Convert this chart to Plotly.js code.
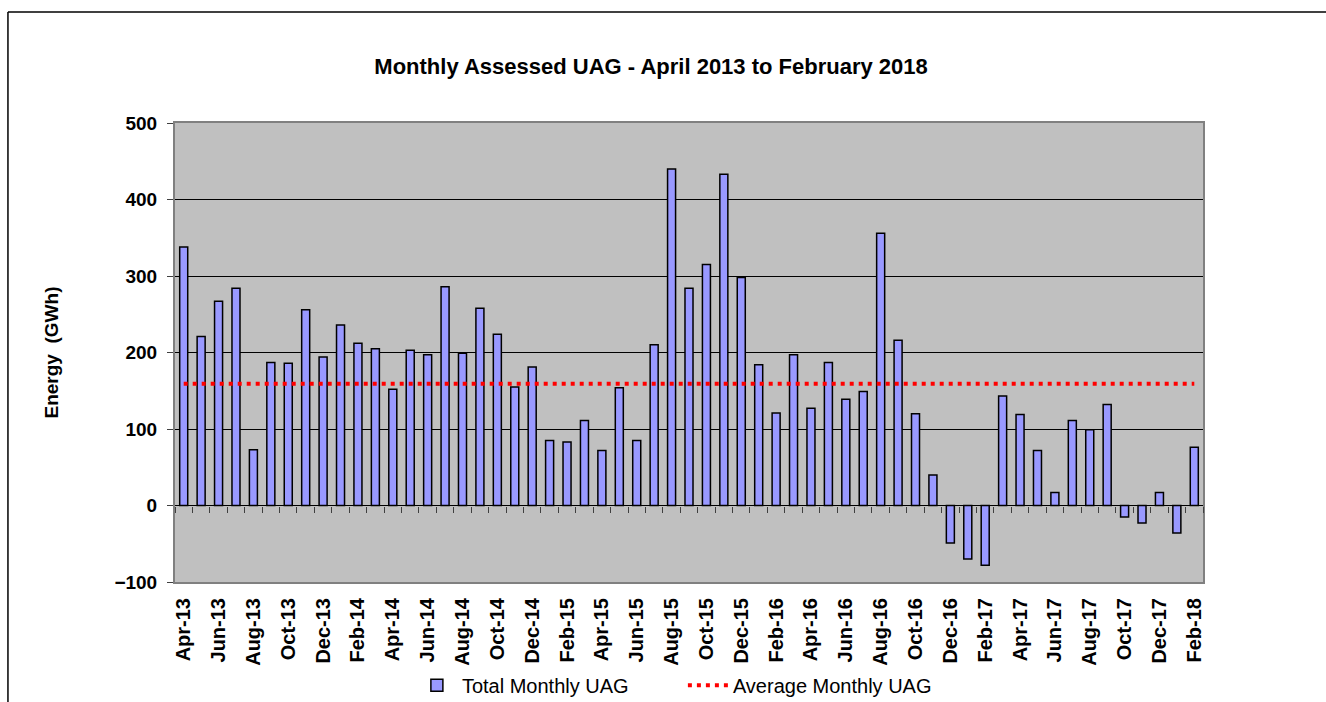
<!DOCTYPE html>
<html>
<head>
<meta charset="utf-8">
<script src="https://cdn.plot.ly/plotly-3.0.1.min.js"></script>
<style>
  html, body { margin: 0; padding: 0; background: #ffffff; }
  #chart { width: 1326px; height: 702px; }
</style>
</head>
<body>
<div id="chart"></div>
<script>
const months = [
  "Apr-13","May-13","Jun-13","Jul-13","Aug-13","Sep-13","Oct-13","Nov-13","Dec-13",
  "Jan-14","Feb-14","Mar-14","Apr-14","May-14","Jun-14","Jul-14","Aug-14","Sep-14","Oct-14","Nov-14","Dec-14",
  "Jan-15","Feb-15","Mar-15","Apr-15","May-15","Jun-15","Jul-15","Aug-15","Sep-15","Oct-15","Nov-15","Dec-15",
  "Jan-16","Feb-16","Mar-16","Apr-16","May-16","Jun-16","Jul-16","Aug-16","Sep-16","Oct-16","Nov-16","Dec-16",
  "Jan-17","Feb-17","Mar-17","Apr-17","May-17","Jun-17","Jul-17","Aug-17","Sep-17","Oct-17","Nov-17","Dec-17",
  "Jan-18","Feb-18"
];
const totalMonthlyUAG = [
  338, 221, 267, 284, 73, 187, 186, 256, 194,
  236, 212, 205, 152, 203, 197, 286, 199, 258, 224, 155, 181,
  85, 83, 111, 72, 154, 85, 210, 440, 284, 315, 433, 298,
  184, 121, 197, 127, 187, 139, 149, 356, 216, 120, 40, -49,
  -70, -78, 143, 119, 72, 17, 111, 99, 132, -15, -23, 17,
  -36, 76
];
const averageMonthlyUAG = 159;
const yTickValues = [-100, 0, 100, 200, 300, 400, 500];
const xTickLabels = months.filter((m, i) => i % 2 === 0);

const FONT = "Liberation Sans, Arial, sans-serif";

const traces = [
  {
    type: "bar",
    name: "Total Monthly UAG",
    x: months,
    y: totalMonthlyUAG,
    marker: { color: "#9999FF", line: { color: "#000000", width: 1.5 } },
    hoverinfo: "x+y"
  },
  {
    type: "scatter",
    mode: "lines",
    name: "Average Monthly UAG",
    x: [months[0], months[months.length - 1]],
    y: [averageMonthlyUAG, averageMonthlyUAG],
    line: { color: "#FF0000", width: 4, dash: "4px,5px" },
    hoverinfo: "y"
  },
  {
    type: "scatter",
    mode: "lines",
    x: months,
    y: totalMonthlyUAG,
    xaxis: "x2",
    yaxis: "y",
    opacity: 0,
    line: { width: 0 },
    showlegend: false,
    hoverinfo: "skip"
  }
];

const layout = {
  width: 1326,
  height: 702,
  paper_bgcolor: "#ffffff",
  plot_bgcolor: "#C0C0C0",
  margin: { l: 175, r: 123, t: 123, b: 120 },
  bargap: 0.54,
  showlegend: true,
  font: { family: FONT, color: "#000000" },
  title: {
    text: "Monthly Assessed UAG - April 2013 to February 2018",
    font: { family: FONT, size: 22, weight: "bold", color: "#000000" },
    xref: "container", yref: "container",
    x: 0.491, xanchor: "center",
    y: 0.905, yanchor: "middle"
  },
  xaxis: {
    type: "category",
    categoryorder: "array",
    categoryarray: months,
    range: [-0.5, months.length - 0.5],
    tickmode: "array",
    tickvals: xTickLabels,
    ticktext: xTickLabels,
    tickangle: -90,
    ticks: "",
    ticklabelstandoff: 6,
    tickfont: { family: FONT, size: 20, weight: "bold", color: "#000000" },
    showgrid: false,
    showline: true,
    linecolor: "#808080",
    linewidth: 2,
    mirror: true,
    zeroline: false,
    automargin: false,
    fixedrange: true
  },
  xaxis2: {
    type: "category",
    overlaying: "x",
    anchor: "free",
    position: 1 / 6,
    side: "bottom",
    categoryorder: "array",
    categoryarray: months,
    range: [-0.5, months.length - 0.5],
    ticks: "outside",
    tickson: "boundaries",
    ticklen: 6,
    tickwidth: 1,
    tickcolor: "#404040",
    showticklabels: false,
    showgrid: false,
    showline: false,
    zeroline: false,
    automargin: false,
    fixedrange: true
  },
  yaxis: {
    range: [-100, 500],
    tickmode: "array",
    tickvals: yTickValues,
    ticks: "outside",
    ticklen: 6,
    tickcolor: "#404040",
    ticklabelstandoff: 6,
    tickfont: { family: FONT, size: 19, weight: "bold", color: "#000000" },
    showgrid: true,
    gridcolor: "#000000",
    gridwidth: 1,
    zeroline: true,
    zerolinecolor: "#000000",
    zerolinewidth: 1,
    showline: true,
    linecolor: "#808080",
    linewidth: 2,
    mirror: true,
    automargin: false,
    title: {
      text: "Energy  (GWh)",
      font: { family: FONT, size: 19, weight: "bold", color: "#000000" },
      standoff: 51
    },
    fixedrange: true
  },
  legend: {
    orientation: "h",
    xref: "container", yref: "container",
    x: 0.515, xanchor: "center",
    y: 0.024, yanchor: "middle",
    font: { family: FONT, size: 20, color: "#000000" },
    bgcolor: "rgba(0,0,0,0)",
    itemwidth: 40,
    entrywidth: 216,
    entrywidthmode: "pixels"
  },
  shapes: [
    { type: "line", xref: "paper", yref: "paper", x0: -0.1625, x1: -0.1625, y0: -0.4, y1: 1.2418,
      line: { color: "#000000", width: 1.5 } },
    { type: "line", xref: "paper", yref: "paper", x0: -0.1625, x1: 1.2, y0: 1.2418, y1: 1.2418,
      line: { color: "#000000", width: 1.5 } }
  ]
};

Plotly.newPlot("chart", traces, layout, { displayModeBar: false, staticPlot: true });
</script>
</body>
</html>
